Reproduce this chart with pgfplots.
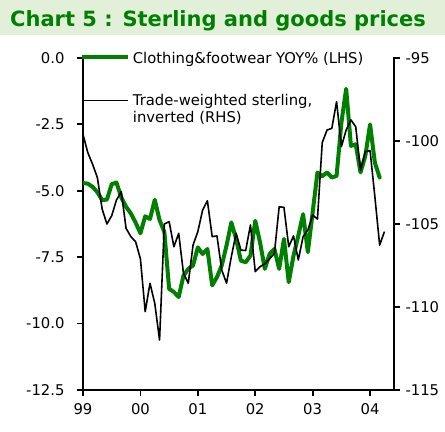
\documentclass[border=0pt]{standalone}
\usepackage{fontspec}
\setmainfont{DejaVu Sans}
\usepackage{pgfplots}
\usepackage{pgfplotstable}
\pgfplotsset{compat=1.18}
\definecolor{cgreen}{RGB}{0,128,0}
\definecolor{band}{RGB}{226,240,218}

\pgfplotstableread{
m v
0 -4.71
1 -4.73
2 -4.85
3 -5.05
4 -5.35
5 -5.33
6 -4.75
7 -4.69
8 -5.25
9 -5.60
10 -5.85
11 -6.20
12 -6.60
13 -5.96
14 -6.06
15 -5.34
16 -6.10
17 -6.55
18 -8.69
19 -8.81
20 -9.00
21 -8.19
22 -7.94
23 -7.81
24 -7.13
25 -7.38
26 -7.19
27 -8.56
28 -8.25
29 -7.81
30 -7.06
31 -6.19
32 -6.81
33 -7.63
34 -7.69
35 -7.44
36 -6.13
37 -6.94
38 -7.94
39 -7.38
40 -7.19
41 -7.94
42 -6.81
43 -8.44
44 -7.44
45 -6.69
46 -5.88
47 -7.31
48 -5.81
49 -4.31
50 -4.45
51 -4.31
52 -4.50
53 -4.44
54 -2.44
55 -1.16
56 -3.31
57 -3.25
58 -4.31
59 -3.69
60 -2.50
61 -3.94
62 -4.50
}\clothing

\pgfplotstableread{
m v
0 -99.6
1 -100.7
2 -101.4
3 -102.2
4 -104.1
5 -105.0
6 -104.5
7 -103.55
8 -103.05
9 -105.26
10 -105.76
11 -106.07
12 -107.1
13 -110.28
14 -108.57
15 -109.78
16 -111.99
17 -105.0
18 -104.86
19 -106.37
20 -105.56
21 -107.97
22 -108.57
23 -106.27
24 -105.46
25 -104.16
26 -103.6
27 -105.76
28 -105.72
29 -107.77
30 -108.57
31 -106.97
32 -105.56
33 -106.57
34 -106.6
35 -105.06
36 -107.87
37 -107.57
38 -107.4
39 -107.1
40 -106.77
41 -103.96
42 -104.0
43 -106.37
44 -105.72
45 -107.17
46 -105.76
47 -105.36
48 -104.46
49 -104.7
50 -100.1
51 -99.34
52 -99.24
53 -97.63
54 -100.34
55 -99.34
56 -98.73
57 -99.14
58 -101.75
59 -100.64
60 -100.58
61 -103.35
62 -106.27
63 -105.46
}\sterling

\newcommand{\lblfont}{\fontsize{14.8bp}{17bp}\selectfont}

\pgfplotsset{
  common/.style={
    at={(83bp,42bp)}, anchor=south west,
    scale only axis, width=311bp, height=332bp,
    xmin=0, xmax=65,
    axis line style={-, line width=2bp, black},
    ticklabel style={font=\lblfont},
    major tick length=6bp,
    tick align=outside,
    clip=true,
  },
}

\begin{document}
\begin{tikzpicture}
\useasboundingbox (0,0) rectangle (445bp,432bp);
\fill[band] (0,397bp) rectangle (445bp,432bp);
\node[anchor=base west, inner sep=0, text=cgreen, font=\fontsize{21bp}{24bp}\selectfont\bfseries] at (10bp,405.3bp) {Chart 5 : Sterling and goods prices};

\begin{axis}[common,
  ymin=-12.5, ymax=0,
  axis y line*=left, axis x line*=bottom,
  xtick={0,12,24,36,48,60},
  xticklabels={99,00,01,02,03,04},
  ytick={-12.5,-10,-7.5,-5,-2.5,0},
  yticklabels={-12.5,-10.0,-7.5,-5.0,-2.5,0.0},
  yticklabel shift=9bp,
  xticklabel shift=4bp,
]
\addplot[cgreen, line width=4bp, line join=round, line cap=round] table[x=m,y=v] {\clothing};
\end{axis}

\begin{axis}[common,
  ymin=-115, ymax=-95,
  axis y line*=right, axis x line=none,
  ytick={-115,-110,-105,-100,-95},
  yticklabels={-115,-110,-105,-100,-95},
  yticklabel shift=2bp,
]
\addplot[black, line width=1.6bp, line join=round] table[x=m,y=v] {\sterling};
\end{axis}

% tick marks
\foreach \ty in {42bp,108.4bp,174.8bp,241.2bp,307.6bp,374bp} {
  \draw[black, line width=1.8bp] (77bp,\ty) -- (84bp,\ty);
}
\foreach \ty in {42bp,125bp,208bp,291bp,374bp} {
  \draw[black, line width=1.8bp] (393bp,\ty) -- (400bp,\ty);
}
\foreach \tx in {83bp,140.4bp,197.8bp,255.3bp,312.7bp,370.2bp} {
  \draw[black, line width=1.8bp] (\tx,43bp) -- (\tx,36bp);
}

\draw[cgreen, line width=4bp] (82bp,375bp) -- (128bp,375bp);
\node[anchor=base west, inner sep=0, font=\lblfont] at (132.7bp,368.5bp) {Clothing\&footwear YOY\% (LHS)};
\draw[black, line width=1.6bp] (83bp,331.3bp) -- (128bp,331.3bp);
\node[anchor=base west, inner sep=0, font=\lblfont] at (132.7bp,326.3bp) {Trade-weighted sterling,};
\node[anchor=base west, inner sep=0, font=\lblfont] at (132.7bp,309.3bp) {inverted (RHS)};
\end{tikzpicture}
\end{document}
